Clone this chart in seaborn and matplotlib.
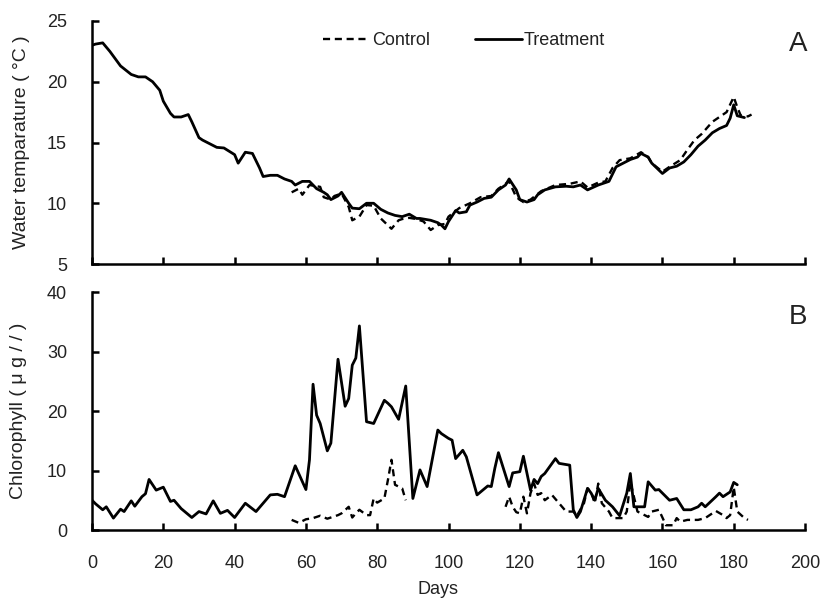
import numpy as np
import pandas as pd
import matplotlib
matplotlib.use("Agg")
import matplotlib.pyplot as plt
from matplotlib.lines import Line2D
import seaborn as sns

# ---------------- data ----------------
temp_treat_days = [0, 1, 3, 5, 7, 8, 11, 13, 15, 17, 19, 20, 22, 23, 25, 27, 28, 30, 31, 33,
                   35, 37, 40, 41, 43, 45, 47, 48, 50, 52, 54, 56, 57, 59, 61, 63, 65, 66, 67, 69,
                   70, 72, 73, 75, 77, 79, 81, 83, 85, 87, 89, 91, 92, 95, 97, 98, 99, 100, 102, 103,
                   105, 106, 108, 110, 112, 114, 116, 117, 119, 120, 122, 124, 125, 127, 130, 133, 135, 137, 139, 142,
                   144, 145, 147, 149, 151, 153, 154, 156, 157, 160, 162, 164, 166, 168, 170, 172, 174, 176, 178, 179,
                   180, 181, 183]
temp_treat = [23.0, 23.1, 23.2, 22.5, 21.7, 21.3, 20.6, 20.4, 20.4, 20.0, 19.3, 18.4, 17.4, 17.1, 17.1, 17.3, 16.7, 15.4, 15.2, 14.9,
              14.6, 14.55, 14.0, 13.3, 14.2, 14.1, 12.9, 12.2, 12.3, 12.3, 12.0, 11.8, 11.5, 11.8, 11.8, 11.2, 10.9, 10.7, 10.3, 10.6,
              10.9, 10.0, 9.6, 9.55, 10.0, 10.0, 9.5, 9.2, 9.0, 8.9, 9.1, 8.75, 8.75, 8.6, 8.4, 8.2, 7.9, 8.5, 9.4, 9.2,
              9.3, 9.85, 10.1, 10.4, 10.5, 11.1, 11.5, 12.0, 11.1, 10.3, 10.1, 10.3, 10.7, 11.1, 11.35, 11.4, 11.35, 11.5, 11.1, 11.5,
              11.7, 11.8, 13.0, 13.3, 13.6, 13.8, 14.1, 13.8, 13.3, 12.45, 12.9, 13.05, 13.4, 14.0, 14.7, 15.2, 15.8, 16.15, 16.4, 17.0,
              18.1, 17.2, 17.05]

temp_ctrl_days = [56, 58, 59, 61, 64, 65, 67, 68, 70, 72, 73, 75, 77, 79, 81, 84, 86, 87, 89, 91,
                  93, 95, 97, 99, 100, 103, 106, 109, 112, 114, 117, 119, 121, 123, 126, 130, 134, 137, 139, 142,
                  144, 146, 148, 151, 154, 156, 157, 160, 162, 165, 167, 169, 171, 174, 176, 178, 180, 181, 182, 184,
                  185]
temp_ctrl = [10.9, 11.2, 10.7, 11.5, 11.35, 10.5, 10.3, 10.6, 10.8, 9.7, 8.6, 8.9, 9.85, 9.8, 8.75, 7.9, 8.6, 8.7, 8.8, 8.7,
             8.5, 7.8, 8.2, 8.3, 8.9, 9.6, 10.0, 10.5, 10.6, 11.2, 11.8, 10.5, 10.1, 10.3, 11.0, 11.5, 11.6, 11.8, 11.3, 11.7,
             11.8, 12.9, 13.55, 13.7, 14.2, 13.8, 13.3, 12.6, 13.0, 13.55, 14.4, 15.2, 15.7, 16.7, 17.1, 17.5, 18.75, 17.9, 17.2, 17.15,
             17.3]

chl_treat_days = [0, 1, 3, 4, 6, 8, 9, 11, 12, 14, 15, 16, 18, 20, 22, 23, 25, 28, 30, 32,
                  34, 36, 38, 40, 43, 46, 50, 52, 54, 57, 60, 61, 62, 63, 64, 66, 67, 69, 71, 72,
                  73, 74, 75, 77, 79, 82, 83, 84, 86, 88, 90, 92, 94, 97, 98, 100, 101, 102, 104, 105,
                  108, 111, 112, 113, 114, 117, 118, 120, 121, 123, 124, 125, 126, 127, 130, 131, 134, 135, 136, 137,
                  139, 140, 141, 142, 144, 146, 148, 150, 151, 152, 155, 156, 158, 159, 162, 164, 166, 168, 170, 171,
                  172, 175, 176, 177, 179, 180, 181]
chl_treat = [5.0, 4.4, 3.4, 3.9, 2.0, 3.5, 3.1, 4.9, 4.0, 5.6, 6.1, 8.5, 6.7, 7.2, 4.8, 5.0, 3.6, 2.1, 3.1, 2.7,
             4.9, 2.8, 3.3, 2.1, 4.5, 3.1, 5.9, 6.0, 5.6, 10.8, 6.8, 11.8, 24.5, 19.3, 17.9, 13.3, 14.6, 28.7, 20.8, 22.1,
             27.7, 28.9, 34.3, 18.2, 17.9, 21.8, 21.3, 20.7, 18.6, 24.2, 5.3, 10.1, 7.3, 16.8, 16.2, 15.4, 15.1, 12.0, 13.4, 12.3,
             5.9, 7.4, 7.3, 10.4, 13.0, 7.3, 9.6, 9.8, 12.4, 6.7, 8.5, 7.8, 9.0, 9.5, 12.0, 11.2, 10.9, 3.4, 2.1, 3.1,
             7.0, 6.2, 5.0, 7.0, 5.0, 3.9, 2.4, 6.2, 9.5, 3.9, 3.9, 8.1, 6.7, 6.8, 5.0, 5.3, 3.4, 3.4, 3.9, 4.5,
             3.9, 5.6, 6.2, 5.6, 6.4, 8.0, 7.6]

chl_ctrl_days_1 = [56, 58, 60, 62, 64, 66, 69, 70, 72, 73, 74, 75, 77, 78, 79, 80, 82, 83, 84, 85,
                   86, 87, 88]
chl_ctrl_1 = [1.7, 1.2, 1.8, 2.0, 2.4, 1.9, 2.5, 2.8, 3.9, 2.1, 2.8, 3.4, 2.5, 2.5, 5.3, 4.6, 5.3, 8.4, 11.8, 7.6,
              7.3, 7.0, 5.0]
chl_ctrl_days_2 = [116, 117, 118, 119, 120, 121, 122, 123, 124, 125, 126, 127, 129, 131, 133, 135, 136, 138, 139, 140,
                   141, 142, 143, 145, 146, 149, 150, 151, 153, 155, 156, 157, 159, 161, 163, 164, 165, 167, 170, 172,
                   175, 177, 178, 179, 180, 181, 183, 184]
chl_ctrl_2 = [3.9, 5.6, 3.9, 3.0, 2.8, 5.6, 2.8, 6.2, 7.8, 5.9, 6.2, 5.0, 5.9, 4.5, 3.1, 3.1, 2.4, 4.5, 7.0, 6.4,
              4.5, 7.8, 4.5, 3.1, 2.0, 2.0, 3.1, 8.1, 3.1, 2.5, 2.2, 3.1, 3.4, 0.8, 0.8, 2.0, 1.4, 1.7, 1.7, 2.0,
              3.2, 2.5, 2.0, 2.5, 7.2, 3.1, 2.0, 1.7]

x_ticks = [0, 20, 40, 60, 80, 100, 120, 140, 160, 180, 200]
temp_ticks = [5, 10, 15, 20, 25]
chl_ticks = [0, 10, 20, 30, 40]

# ---------------- frames ----------------
df_tt = pd.DataFrame({"day": temp_treat_days, "val": temp_treat})
df_tc = pd.DataFrame({"day": temp_ctrl_days, "val": temp_ctrl})
df_ct = pd.DataFrame({"day": chl_treat_days, "val": chl_treat})
df_cc = pd.concat([
    pd.DataFrame({"day": chl_ctrl_days_1, "val": chl_ctrl_1, "seg": 1}),
    pd.DataFrame({"day": chl_ctrl_days_2, "val": chl_ctrl_2, "seg": 2}),
], ignore_index=True)

# ---------------- figure ----------------
sns.set_theme(style="ticks")
plt.rcParams["font.family"] = ["Liberation Sans", "DejaVu Sans"]

fig = plt.figure(figsize=(8.26, 5.98), dpi=100)
axA = fig.add_axes([0.1114, 0.5585, 0.8632, 0.4064])
axB = fig.add_axes([0.1114, 0.1137, 0.8632, 0.3980])

lw_s = 2.0
lw_d = 1.7
dash = (3, 2)

sns.lineplot(data=df_tc, x="day", y="val", ax=axA, color="black", lw=lw_d,
             estimator=None, sort=False, linestyle=(0, dash))
sns.lineplot(data=df_tt, x="day", y="val", ax=axA, color="black", lw=lw_s,
             estimator=None, sort=False)

sns.lineplot(data=df_cc, x="day", y="val", units="seg", ax=axB, color="black", lw=lw_d,
             estimator=None, sort=False, linestyle=(0, dash))
sns.lineplot(data=df_ct, x="day", y="val", ax=axB, color="black", lw=lw_s,
             estimator=None, sort=False)

for ax in (axA, axB):
    ax.set_xlim(0, 200)
    ax.set_xticks(x_ticks)
    for s in ("top", "right"):
        ax.spines[s].set_visible(False)
    for s in ("left", "bottom"):
        ax.spines[s].set_linewidth(1.8)
        ax.spines[s].set_color("black")
    ax.tick_params(direction="in", length=5, width=1.8, colors="black",
                   labelsize=13, labelcolor="#222222")
    ax.tick_params(axis="y", pad=18)
    ax.tick_params(axis="x", pad=18)
    ax.grid(False)

axA.set_ylim(5, 25)
axA.set_yticks(temp_ticks)
axA.tick_params(axis="x", labelbottom=False)
axA.set_xlabel("")
axA.set_ylabel("Water temparature ( °C )", fontsize=14, color="#222222")
axA.yaxis.set_label_coords(-0.087, 0.5)

axB.set_ylim(0, 40)
axB.set_yticks(chl_ticks)
axB.set_xlabel("Days", fontsize=13, color="#222222")
axB.xaxis.set_label_coords(0.485, -0.215)
axB.set_ylabel("Chlorophyll ( μ g / / )", fontsize=14, color="#222222")
axB.yaxis.set_label_coords(-0.091, 0.5)

axA.text(1.003, 0.905, "A", transform=axA.transAxes, fontsize=20,
         ha="right", va="center", color="#222222")
axB.text(1.003, 0.895, "B", transform=axB.transAxes, fontsize=20,
         ha="right", va="center", color="#222222")

handles = [Line2D([], [], color="black", lw=lw_d, linestyle=(0, dash)),
           Line2D([], [], color="black", lw=lw_s)]
axA.legend(handles, ["Control", "Treatment"], loc="center", bbox_to_anchor=(0.522, 0.92),
           ncol=2, frameon=False, fontsize=13, handlelength=2.6, handletextpad=0.1,
           columnspacing=2.5, labelcolor="#222222")

fig.savefig("out.png", dpi=100, facecolor="white")
